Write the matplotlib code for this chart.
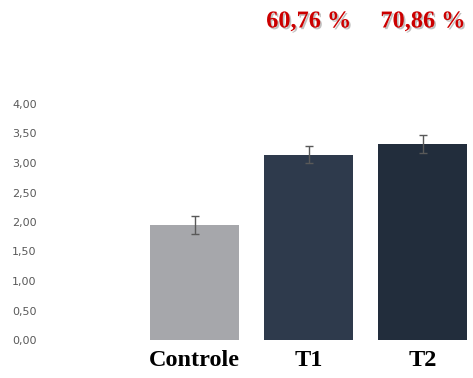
import matplotlib as mpl
import matplotlib.pyplot as plt
import matplotlib.patheffects as pe
import numpy as np

categories = ['Controle', 'T1', 'T2']
means = [1.95, 3.14, 3.32]
errors = [0.16, 0.14, 0.15]
colors = ['#a6a7ab', '#2e3a4c', '#222d3c']
pct_labels = ['', '60,76 %', '70,86 %']
yticks = [0, 0.5, 1.0, 1.5, 2.0, 2.5, 3.0, 3.5, 4.0]

fig = plt.figure(figsize=(4.73, 3.78), dpi=100)
ax = fig.add_axes([45/473, 38/378, 428/473, 236/378])

x = np.arange(len(categories))
ax.bar(x, means, width=0.78, color=colors, linewidth=0, zorder=2)
ax.errorbar(x, means, yerr=errors, fmt='none', ecolor='#595959',
            elinewidth=1.0, capsize=3, capthick=1.0, zorder=3)

for s in ax.spines.values():
    s.set_visible(False)

ax.set_xlim(-1.31, 2.44)
ax.set_ylim(0, 4)
ax.set_yticks(yticks)
ax.set_yticklabels([f'{v:.2f}'.replace('.', ',') for v in yticks],
                   fontsize=8, color='#595959', family='DejaVu Sans')
ax.tick_params(axis='y', length=0, pad=6)
ax.set_xticks(x)
ax.set_xticklabels(categories, fontsize=17.5, fontweight='bold',
                   family='Liberation Serif', color='black')
ax.tick_params(axis='x', length=0, pad=7)

shadow = [pe.SimplePatchShadow(offset=(1.2, -1.2), shadow_rgbFace='#999999', alpha=0.6), pe.Normal()]
for i, t in enumerate(pct_labels):
    if t:
        ax.text(x[i], 5.39, t, ha='center', va='center', fontsize=17.5,
                fontweight='bold', family='Liberation Serif', color='#cc0000',
                clip_on=False, path_effects=shadow)

plt.savefig('out.png', dpi=100)
